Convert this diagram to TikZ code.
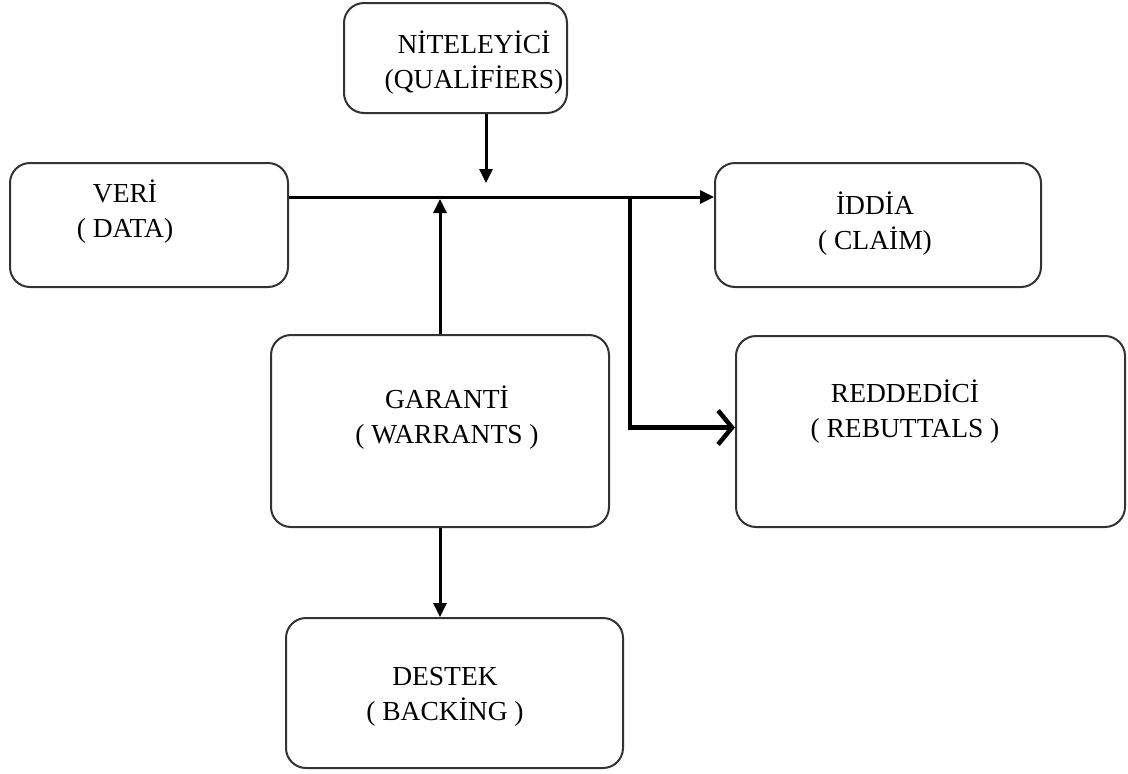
\documentclass[tikz,border=0pt]{standalone}
\usepackage{fontspec}
\setmainfont{Liberation Serif}
\usetikzlibrary{arrows.meta}
\tikzstyle{box} = [rectangle, rounded corners=20pt, draw=black!80, line width=2pt]
\tikzstyle{txt} = [anchor=base, align=center, inner sep=0pt, font=\fontsize{27.5}{35}\selectfont]
\tikzstyle{arrow} = [line width=3pt, -{Triangle[length=14pt,width=13pt]}]
\tikzstyle{openarrow} = [line width=4.5pt, -{Straight Barb[length=14pt,width=34pt]}]

\begin{document}
\begin{tikzpicture}[x=1pt, y=-1pt]

	\useasboundingbox (0,0) rectangle (1128,774);

	\node (qualifier)[box, minimum width=223pt, minimum height=110pt] at (455.5,58) {};

	\node (data)[box, minimum width=278pt, minimum height=124pt] at (149,225) {};

	\node (claim)[box, minimum width=326pt, minimum height=124pt] at (878,225) {};

	\node (warrant)[box, minimum width=338pt, minimum height=192pt] at (440,431) {};

	\node (rebuttal)[box, minimum width=389pt, minimum height=191pt] at (930.5,431.5) {};

	\node (backing)[box, minimum width=337pt, minimum height=150pt] at (454.5,693) {};



	\node (qualifierText)[txt] at (474,88) {NİTELEYİCİ\\(QUALİFİERS)};

	\node (dataText)[txt] at (125,237) {VERİ\\( DATA)};

	\node (claimText)[txt] at (875,249) {İDDİA\\( CLAİM)};

	\node (warrantText)[txt] at (447,443) {GARANTİ\\( WARRANTS )};

	\node (rebuttalText)[txt] at (905,437) {REDDEDİCİ\\( REBUTTALS )};

	\node (backingText)[txt] at (445,720) {DESTEK\\( BACKİNG )};



	\coordinate (qualifierTip) at (486,183);
	\coordinate (warrantTip) at (440,199);
	\coordinate (rebuttalFork) at (630,196);

	\draw [arrow] ([yshift=28pt]data.east) -- ([yshift=28pt]claim.west);

	\draw [arrow] (qualifierTip |- qualifier.south) -- (qualifierTip);

	\draw [arrow] (warrant.north) -- (warrantTip);

	\draw [arrow] (warrant.south) -- (warrant.south |- backing.north);

	\draw [openarrow] (rebuttalFork) |- ([yshift=4pt]rebuttal.west);

\end{tikzpicture}
\end{document}
